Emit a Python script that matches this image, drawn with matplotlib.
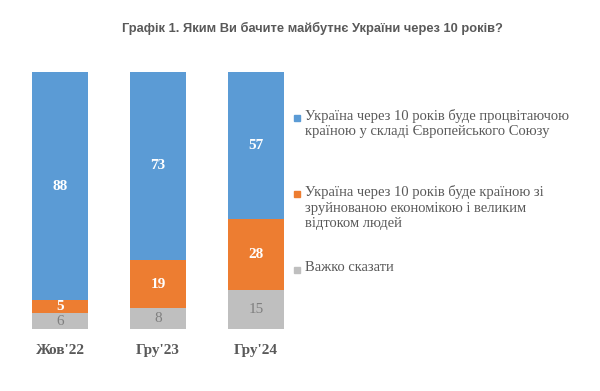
import numpy as np
import matplotlib
matplotlib.use("Agg")
from matplotlib import pyplot as plt
from matplotlib.patches import Rectangle

# data
categories = ["Жов'22", "Гру'23", "Гру'24"]
prosper_eu = [88, 73, 57]
ruined = [5, 19, 28]
hard_to_say = [6, 8, 15]
series_names = ["Україна через 10 років буде процвітаючою\nкраїною у складі Європейського Союзу",
                "Україна через 10 років буде країною зі\nзруйнованою економікою і великим\nвідтоком людей",
                "Важко сказати"]
title = "Графік 1. Яким Ви бачите майбутнє України через 10 років?"

c_blue = "#5B9BD5"
c_orange = "#ED7D31"
c_gray = "#BFBFBF"
c_text = "#595959"

fig = plt.figure(figsize=(6, 3.91), dpi=100)
ax = fig.add_axes([0.0, 0.1586, 0.5, 0.657])

x = np.arange(len(categories))
w = 0.571
# 100% stacked, like the original Excel chart
total = np.array(prosper_eu) + np.array(ruined) + np.array(hard_to_say)
gray = np.array(hard_to_say) / total * 100
orange = np.array(ruined) / total * 100
blue = np.array(prosper_eu) / total * 100

ax.bar(x, gray, w, color=c_gray)
ax.bar(x, orange, w, bottom=gray, color=c_orange)
ax.bar(x, blue, w, bottom=gray + orange, color=c_blue)

for i in range(len(x)):
    ax.text(x[i], gray[i] / 2, str(hard_to_say[i]), ha="center", va="center",
            family="Liberation Serif", fontsize=11, color="#7F7F7F")
    ax.text(x[i], gray[i] + orange[i] / 2, str(ruined[i]), ha="center", va="center",
            family="Liberation Serif", fontsize=11, color="white", fontweight="bold")
    ax.text(x[i], gray[i] + orange[i] + blue[i] / 2, str(prosper_eu[i]), ha="center", va="center",
            family="Liberation Serif", fontsize=11, color="white", fontweight="bold")

ax.set_xlim(-0.612, 2.449)
ax.set_ylim(0, 100)
ax.set_xticks(x)
ax.set_xticklabels(categories, family="Liberation Serif", fontsize=11,
                   fontweight="bold", color=c_text)
ax.tick_params(axis="x", length=0, pad=11)
ax.set_yticks([])
for s in ax.spines.values():
    s.set_visible(False)

# legend drawn by hand
W, H = 600, 391
legend_items = [(c_blue, series_names[0], 118), (c_orange, series_names[1], 194),
                (c_gray, series_names[2], 270)]
for col, label, yc in legend_items:
    fig.patches.append(Rectangle((294 / W, 1 - (yc + 3) / H), 6 / W, 6 / H,
                                 transform=fig.transFigure, color=col))
    fig.text(305 / W, 1 - (yc - 9) / H, label, ha="left", va="top",
             family="Liberation Serif", fontsize=10.5, color=c_text, linespacing=1.25)

fig.text(312 / W, 1 - 28 / H, title, ha="center", va="center",
         family="Liberation Sans", fontsize=9.3, fontweight="bold", color=c_text)

plt.savefig("out.png", dpi=100)
